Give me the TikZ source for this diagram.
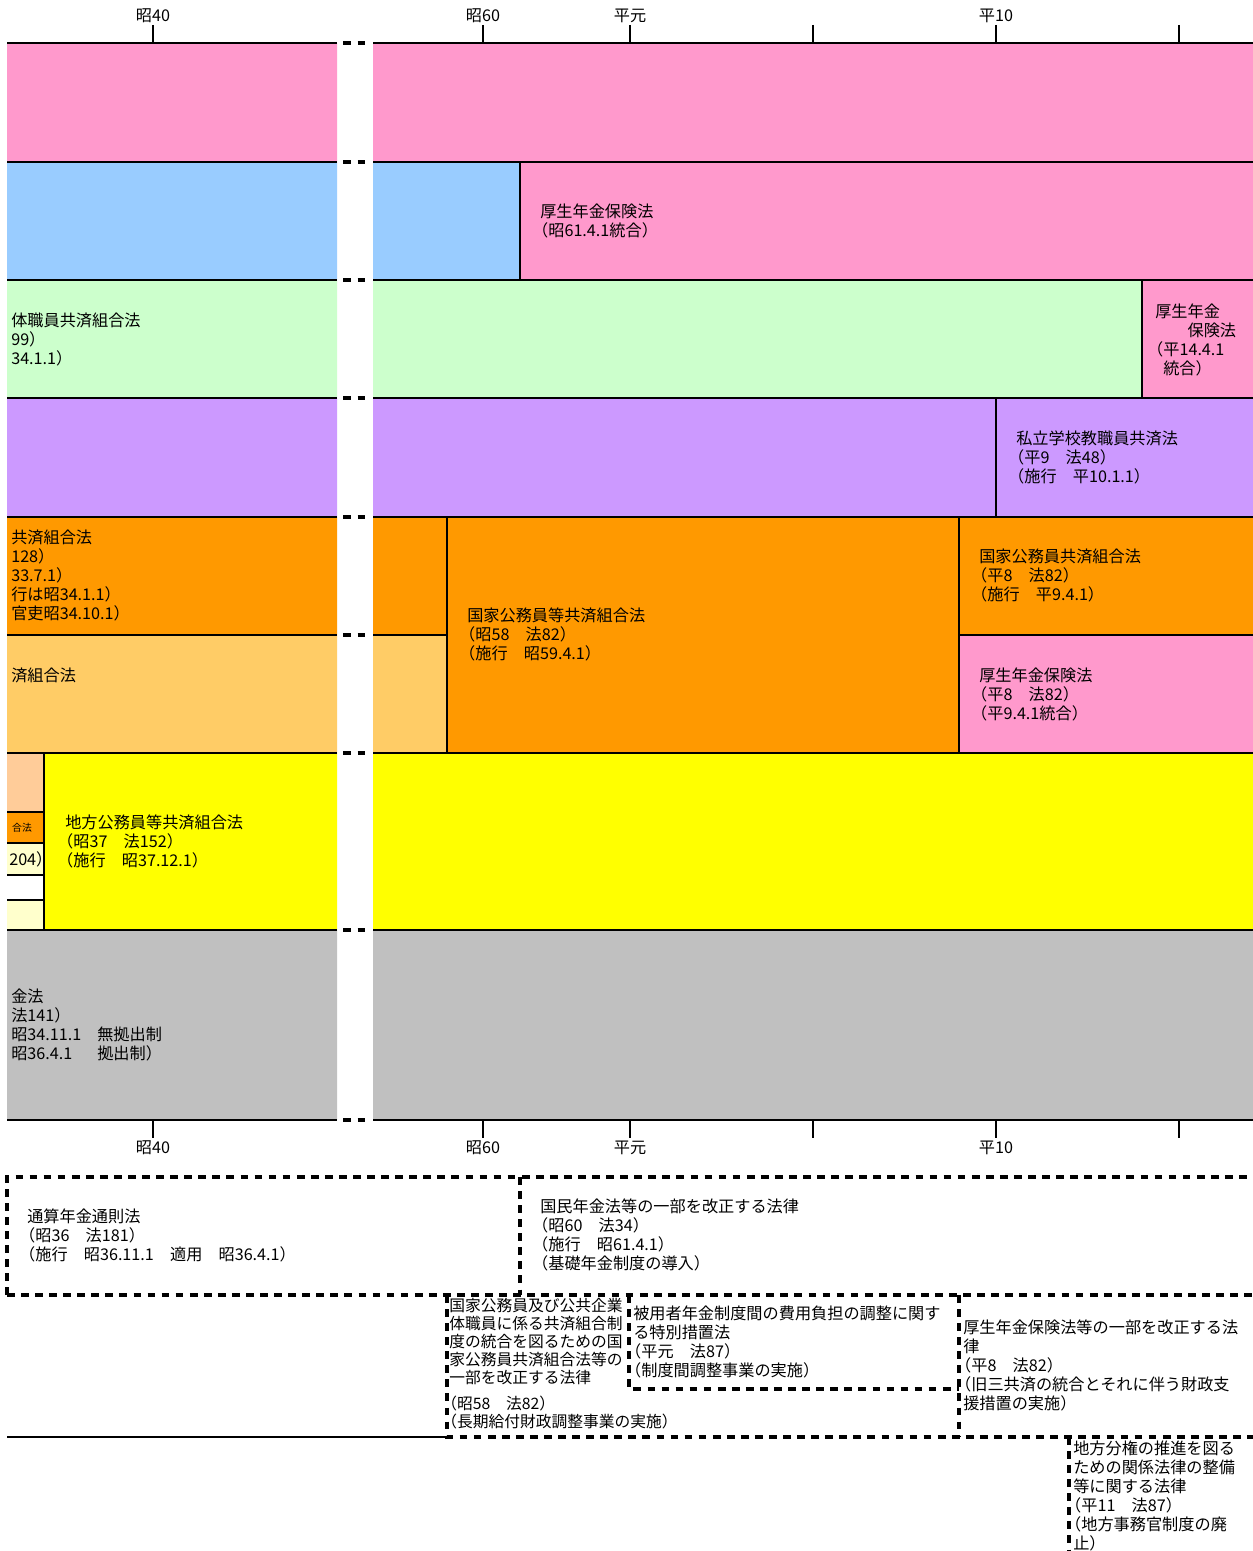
\documentclass[tikz,border=0pt]{standalone}
\usepackage{fontspec}
\setmainfont[RawFeature=+halt]{Noto Sans CJK JP}
\definecolor{nenpink}{HTML}{FF99CC}
\definecolor{nenblue}{HTML}{99CCFF}
\definecolor{nengreen}{HTML}{CCFFCC}
\definecolor{nenpurple}{HTML}{CC99FF}
\definecolor{nenorange}{HTML}{FF9900}
\definecolor{nenlorange}{HTML}{FFCC66}
\definecolor{nenyellow}{HTML}{FFFF00}
\definecolor{nenpeach}{HTML}{FFCC99}
\definecolor{nenlyellow}{HTML}{FFFFCC}
\definecolor{nengray}{HTML}{C0C0C0}
\newcommand{\lawsize}{\fontsize{11.5}{13.4}\selectfont}
\newcommand{\tightsize}{\fontsize{11.2}{12.8}\selectfont}
\begin{document}
\begin{tikzpicture}[x=0.025cm,y=-0.025cm,
    law/.style={anchor=north west,inner sep=0pt,align=left,font=\lawsize,yshift=-0.05cm},
    yearlbl/.style={inner sep=0pt,font=\lawsize},
    border/.style={line width=1.8pt},
    gapline/.style={line width=2.4pt,dash pattern=on 5.5pt off 4.6pt,dash phase=5.5pt},
    dashbox/.style={line width=2.4pt,dash pattern=on 5.5pt off 4.5pt}]
  \useasboundingbox[fill=white] (0,0) rectangle (1253,1551);
  % bands
  \fill[nenpink] (7,43) rectangle (337,162) (373,43) rectangle (1253,162)
    (520,162) rectangle (1253,280) (1142,280) rectangle (1253,398)
    (959,635) rectangle (1253,753);
  \fill[nenblue] (7,162) rectangle (337,280) (373,162) rectangle (520,280);
  \fill[nengreen] (7,280) rectangle (337,398) (373,280) rectangle (1142,398);
  \fill[nenpurple] (7,398) rectangle (337,517) (373,398) rectangle (1253,517);
  \fill[nenorange] (7,517) rectangle (337,635) (373,517) rectangle (447,635)
    (447,517) rectangle (959,753) (959,517) rectangle (1253,635)
    (7,812) rectangle (44,843);
  \fill[nenlorange] (7,635) rectangle (337,753) (373,635) rectangle (447,753);
  \fill[nenyellow] (44,753) rectangle (337,930) (373,753) rectangle (1253,930);
  \fill[nenpeach] (7,753) rectangle (44,812);
  \fill[nenlyellow] (7,843) rectangle (44,875) (7,900) rectangle (44,930);
  \fill[nengray] (7,930) rectangle (337,1120) (373,930) rectangle (1253,1120);
  % borders
  \foreach \y in {43,162,280,398,517,753,930,1120}
    \draw[border] (7,\y) -- (337,\y) (373,\y) -- (1253,\y);
  \draw[border] (7,635) -- (337,635) (373,635) -- (447,635) (959,635) -- (1253,635);
  \foreach \y in {43,162,280,398,517,635,753,930,1120}
    \draw[gapline] (337,\y) -- (371,\y);
  \draw[border] (520,162) -- (520,280) (1142,280) -- (1142,398) (996,398) -- (996,517)
    (447,517) -- (447,753) (959,517) -- (959,753) (44,753) -- (44,930);
  \foreach \y in {812,843,875,900}
    \draw[border] (7,\y) -- (44,\y);
  % axes
  \foreach \x in {153,483,630,813,996,1179}
    \draw[border] (\x,25) -- (\x,43) (\x,1120) -- (\x,1138);
  \foreach \x/\t [count=\i] in {153/昭40,483/昭60,630/平元,996/平10}
  {
    \node[yearlbl] (top\i) at (\x,16) {\t};
    \node[yearlbl] (bot\i) at (\x,1148) {\t};
  }
  % left panel
  \node[law] (kyosai) at (11,311) {体職員共済組合法\\99）\\34.1.1）};
  \node[law] (kokkyo) at (11,528) {共済組合法\\128）\\33.7.1）\\行は昭34.1.1）\\官吏昭34.10.1）};
  \node[law] (kokkyob) at (11,666) {済組合法};
  \node[inner sep=0pt,font=\fontsize{7}{8}\selectfont] (gohou) at (22,828) {合法};
  \node[anchor=west,inner sep=0pt,font=\lawsize] (n204) at (9,859) {204）};
  \node[law] (chiko37) at (65,813) {地方公務員等共済組合法\\（昭37　法152）\\（施行　昭37.12.1）};
  \node[law] (onkyu) at (11,987) {金法\\法141）\\\makebox[2.15cm][l]{昭34.11.1}無拠出制\\\makebox[2.15cm][l]{昭36.4.1}拠出制）};
  % right panel
  \node[law] (kosei61) at (540,202) {厚生年金保険法\\（昭61.4.1統合）};
  \node[law] (kosei14) at (1155,302) {厚生年金\\　　保険法\\（平14.4.1\\\hspace*{0.2cm}統合）};
  \node[law] (shigaku) at (1016,429) {私立学校教職員共済法\\（平9　法48）\\（施行　平10.1.1）};
  \node[law] (kokko8) at (979,547) {国家公務員共済組合法\\（平8　法82）\\（施行　平9.4.1）};
  \node[law] (kokkoto58) at (467,606) {国家公務員等共済組合法\\（昭58　法82）\\（施行　昭59.4.1）};
  \node[law] (kosei8) at (979,666) {厚生年金保険法\\（平8　法82）\\（平9.4.1統合）};
  % related laws
  \draw[dashbox] (7,1295) -- (7,1177) -- (1253,1177);
  \draw[dashbox] (520,1177) -- (520,1295);
  \draw[dashbox] (7,1295) -- (1253,1295);
  \draw[border] (7,1437) -- (447,1437);
  \draw[dashbox] (447,1295) -- (447,1437) -- (1253,1437);
  \draw[dashbox] (629,1295) -- (629,1389) -- (959,1389);
  \draw[dashbox] (959,1295) -- (959,1437);
  \draw[dashbox] (1069,1437) -- (1069,1551);
  \node[law] (tsusan) at (27,1207) {通算年金通則法\\（昭36　法181）\\（施行　昭36.11.1　適用　昭36.4.1）};
  \node[law] (kokumin60) at (540,1197) {国民年金法等の一部を改正する法律\\（昭60　法34）\\（施行　昭61.4.1）\\（基礎年金制度の導入）};
  \node[law,font=\tightsize] (togo58) at (449,1296) {国家公務員及び公共企業\\体職員に係る共済組合制\\度の統合を図るための国\\家公務員共済組合法等の\\一部を改正する法律\\[0.2cm]（昭58　法82）\\（長期給付財政調整事業の実施）};
  \node[law] (hiyosha) at (633,1304) {被用者年金制度間の費用負担の調整に関す\\る特別措置法\\（平元　法87）\\（制度間調整事業の実施）};
  \node[law] (kosei8b) at (963,1318) {厚生年金保険法等の一部を改正する法\\律\\（平8　法82）\\（旧三共済の統合とそれに伴う財政支\\援措置の実施）};
  \node[law] (chiho11) at (1073,1439) {地方分権の推進を図る\\ための関係法律の整備\\等に関する法律\\（平11　法87）\\（地方事務官制度の廃\\止）};
\end{tikzpicture}
\end{document}
